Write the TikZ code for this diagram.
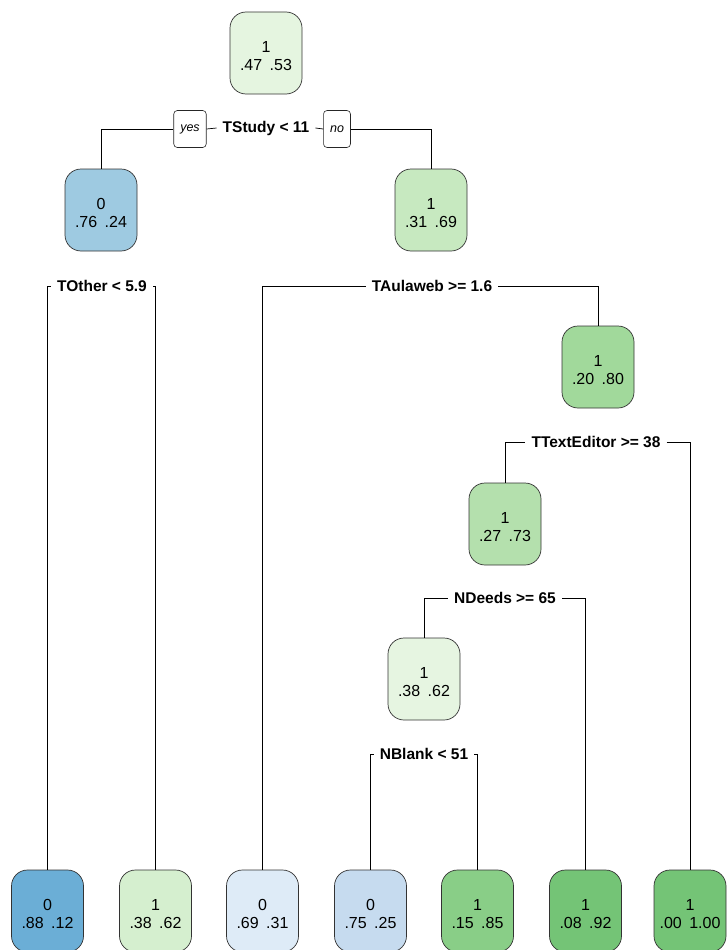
\documentclass[tikz,border=0pt]{standalone}
\usepackage{fontspec}
\setmainfont{Liberation Sans}
\begin{document}
\begin{tikzpicture}[x=1pt,y=-1pt,
  tbox/.style={draw=black!80,line width=0.7pt,rounded corners=16pt,minimum width=72pt,minimum height=82pt,align=center,inner sep=0pt,font=\fontsize{16}{18.5}\selectfont},
  split/.style={fill=white,inner xsep=6pt,inner ysep=2pt,font=\fontsize{15.5}{17}\selectfont\bfseries},
  yn/.style={draw=black!85,line width=0.6pt,fill=white,rounded corners=3.5pt,minimum height=37pt,inner xsep=6.5pt,font=\fontsize{12.5}{14}\selectfont\itshape},
  conn/.style={draw=black,line width=0.7pt}]
\useasboundingbox (0,0) rectangle (727,950);
\clip (0,0) rectangle (727,950);
\definecolor{cA}{HTML}{E5F5E0}
\definecolor{cB}{HTML}{9ECAE1}
\definecolor{cC}{HTML}{C7E9C0}
\definecolor{cD}{HTML}{A1D99B}
\definecolor{cE}{HTML}{B4E0AD}
\definecolor{cF}{HTML}{E6F5E1}
\definecolor{cL1}{HTML}{6BAED6}
\definecolor{cL2}{HTML}{D5EFCF}
\definecolor{cL3}{HTML}{DEEBF7}
\definecolor{cL4}{HTML}{C6DBEF}
\definecolor{cL5}{HTML}{89CE87}
\definecolor{cL6}{HTML}{74C476}
\definecolor{cL7}{HTML}{74C476}

\newcommand{\pp}[3]{\rule{0pt}{17.5pt}#1\\#2\hspace{7.5pt}#3}

\node[tbox,fill=cA] (root) at (266,53) {\pp{1}{.47}{.53}};
\node[tbox,fill=cB] (n0) at (101,210) {\pp{0}{.76}{.24}};
\node[tbox,fill=cC] (n1) at (431,210) {\pp{1}{.31}{.69}};
\node[tbox,fill=cD] (n2) at (598,367) {\pp{1}{.20}{.80}};
\node[tbox,fill=cE] (n3) at (505,524) {\pp{1}{.27}{.73}};
\node[tbox,fill=cF] (n4) at (424,679) {\pp{1}{.38}{.62}};

\node[tbox,fill=cL1] (l1) at (47.5,911) {\pp{0}{.88}{.12}};
\node[tbox,fill=cL2] (l2) at (155.5,911) {\pp{1}{.38}{.62}};
\node[tbox,fill=cL3] (l3) at (262.5,911) {\pp{0}{.69}{.31}};
\node[tbox,fill=cL4] (l4) at (370.5,911) {\pp{0}{.75}{.25}};
\node[tbox,fill=cL5] (l5) at (477.5,911) {\pp{1}{.15}{.85}};
\node[tbox,fill=cL6] (l6) at (585.5,911) {\pp{1}{.08}{.92}};
\node[tbox,fill=cL7] (l7) at (690,911) {\pp{1}{.00}{1.00}};

\node[split] (s0) at (266,128) {TStudy < 11};
\node[yn] (yes) at (190,129) {yes};
\node[yn] (no) at (337,129) {no};
\node[split] (s1) at (102,286) {TOther < 5.9};
\node[split] (s2) at (432,286) {TAulaweb >= 1.6};
\node[split] (s3) at (596,442) {TTextEditor >= 38};
\node[split] (s4) at (505,598) {NDeeds >= 65};
\node[split] (s5) at (424,754) {NBlank < 51};

\draw[conn] (n0.north) |- (yes.west);
\draw[conn] (yes.east) -- (s0.west);
\draw[conn] (s0.east) -- (no.west);
\draw[conn] (no.east) -| (n1.north);
\draw[conn] (l1.north) |- (s1.west);
\draw[conn] (s1.east) -| (l2.north);
\draw[conn] (l3.north) |- (s2.west);
\draw[conn] (s2.east) -| (n2.north);
\draw[conn] (n3.north) |- (s3.west);
\draw[conn] (s3.east) -| (l7.north);
\draw[conn] (n4.north) |- (s4.west);
\draw[conn] (s4.east) -| (l6.north);
\draw[conn] (l4.north) |- (s5.west);
\draw[conn] (s5.east) -| (l5.north);
\end{tikzpicture}
\end{document}
